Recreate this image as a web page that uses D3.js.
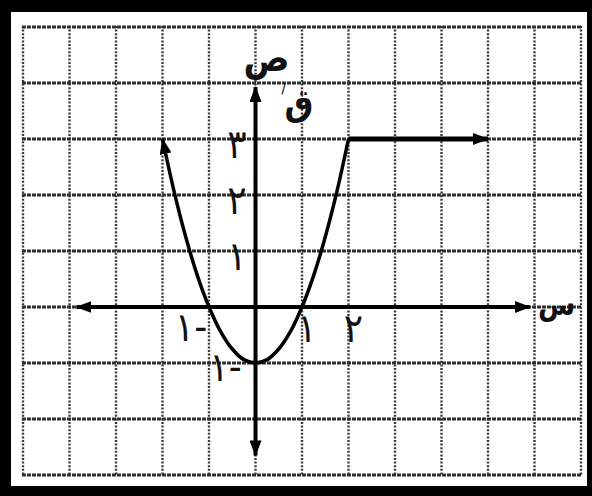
<!DOCTYPE html>
<html>
<head>
<meta charset="utf-8">
<script src="https://cdn.jsdelivr.net/npm/d3@7"></script>
<style>
  body { margin: 0; background: #000; }
  svg { display: block; }
  text { font-family: "DejaVu Sans Condensed", "DejaVu Sans", sans-serif; fill: #111; }
</style>
</head>
<body>
<div id="chart"></div>
<script>
// grid / axis values
var gridX = [-5, -4, -3, -2, -1, 0, 1, 2, 3, 4, 5, 6, 7];
var gridY = [-3, -2, -1, 0, 1, 2, 3, 4, 5];

// the curve
var curveX = [-2, -1.75, -1.5, -1.25, -1, -0.75, -0.5, -0.25, 0, 0.25, 0.5, 0.75, 1, 1.25, 1.5, 1.75, 2];
var curveY = [3, 2.06, 1.25, 0.56, 0, -0.44, -0.75, -0.94, -1, -0.94, -0.75, -0.44, 0, 0.56, 1.25, 2.06, 3];
var flatX = [2, 5];
var flatY = [3, 3];

// axis extents (arrow tips)
var xAxisEnds = [-3.85, 5.9];
var yAxisEnds = [-2.65, 3.93];

// tick labels
var yTickVals = [3, 2, 1];
var yTickText = ["\u0663", "\u0662", "\u0661"];
var xTickVals = [1, 2];
var xTickText = ["\u0661", "\u0662"];
var negText = "\u0661-";

var width = 592, height = 496;

var svg = d3.select("#chart")
  .append("svg")
    .attr("width", width)
    .attr("height", height);

// black frame + paper
svg.append("rect").attr("width", width).attr("height", height).attr("fill", "#000");
svg.append("rect")
  .attr("x", 11).attr("y", 12)
  .attr("width", 576).attr("height", 474)
  .attr("fill", "#fff");

var x = d3.scaleLinear().domain([-5, 7]).range([23, 581]);
var y = d3.scaleLinear().domain([-3, 5]).range([475, 27]);

// arrow heads
var defs = svg.append("defs");
defs.append("marker")
  .attr("id", "arrow")
  .attr("viewBox", "0 0 16 12")
  .attr("refX", 15).attr("refY", 6)
  .attr("markerUnits", "userSpaceOnUse")
  .attr("markerWidth", 16).attr("markerHeight", 12)
  .attr("orient", "auto-start-reverse")
  .append("path")
    .attr("d", "M0,0 L16,6 L0,12 Z")
    .attr("fill", "#000");

// grid lines
svg.append("g")
  .selectAll("line")
  .data(gridX)
  .enter()
  .append("line")
    .attr("x1", function(d) { return x(d); })
    .attr("x2", function(d) { return x(d); })
    .attr("y1", y(5) - 1)
    .attr("y2", y(-3) + 1)
    .attr("stroke", "#3a3a3a")
    .attr("stroke-width", 2.4)
    .attr("stroke-dasharray", "2,1.6");

svg.append("g")
  .selectAll("line")
  .data(gridY)
  .enter()
  .append("line")
    .attr("x1", x(-5) - 1)
    .attr("x2", x(7) + 1)
    .attr("y1", function(d) { return y(d); })
    .attr("y2", function(d) { return y(d); })
    .attr("stroke", "#2e2e2e")
    .attr("stroke-width", 3.2)
    .attr("stroke-dasharray", "4,1");

// axes
svg.append("line")
  .attr("x1", x(xAxisEnds[0])).attr("x2", x(xAxisEnds[1]))
  .attr("y1", y(0)).attr("y2", y(0))
  .attr("stroke", "#000")
  .attr("stroke-width", 4)
  .attr("marker-start", "url(#arrow)")
  .attr("marker-end", "url(#arrow)");

svg.append("line")
  .attr("x1", x(0)).attr("x2", x(0))
  .attr("y1", y(yAxisEnds[0])).attr("y2", y(yAxisEnds[1]))
  .attr("stroke", "#000")
  .attr("stroke-width", 4)
  .attr("marker-start", "url(#arrow)")
  .attr("marker-end", "url(#arrow)");

// the function
var curvePts = curveX.map(function(d, i) { return [d, curveY[i]]; });
var flatPts = flatX.map(function(d, i) { return [d, flatY[i]]; });

var line = d3.line()
  .x(function(d) { return x(d[0]); })
  .y(function(d) { return y(d[1]); })
  .curve(d3.curveCatmullRom);

svg.append("path")
  .datum(curvePts)
  .attr("d", line)
  .attr("fill", "none")
  .attr("stroke", "#000")
  .attr("stroke-width", 3.5)
  .attr("marker-start", "url(#arrow)");

svg.append("path")
  .datum(flatPts)
  .attr("d", d3.line().x(function(d) { return x(d[0]); }).y(function(d) { return y(d[1]); }))
  .attr("fill", "none")
  .attr("stroke", "#000")
  .attr("stroke-width", 5)
  .attr("marker-end", "url(#arrow)");

// tick labels
var tickSize = 40;

svg.append("g")
  .selectAll("text")
  .data(yTickVals)
  .enter()
  .append("text")
    .attr("x", x(0) - 9)
    .attr("y", function(d) { return y(d) + 19; })
    .attr("text-anchor", "end")
    .attr("font-size", tickSize)
    .text(function(d, i) { return yTickText[i]; });

svg.append("g")
  .selectAll("text")
  .data(xTickVals)
  .enter()
  .append("text")
    .attr("x", function(d) { return x(d) + 5; })
    .attr("y", y(0) + 35)
    .attr("text-anchor", "middle")
    .attr("font-size", tickSize)
    .text(function(d, i) { return xTickText[i]; });

// negative labels
svg.append("text")
  .attr("x", x(-1) - 18)
  .attr("y", y(0) + 34)
  .attr("text-anchor", "middle")
  .attr("font-size", tickSize)
  .text(negText);

svg.append("text")
  .attr("x", x(0) - 30)
  .attr("y", y(-1) + 18)
  .attr("text-anchor", "middle")
  .attr("font-size", tickSize)
  .text(negText);

// axis names
svg.append("text")
  .attr("x", x(0) + 11)
  .attr("y", y(4) - 12)
  .attr("text-anchor", "middle")
  .attr("font-size", 38)
  .attr("font-weight", "bold")
  .text("ص");

svg.append("text")
  .attr("x", x(6.5) - 1)
  .attr("y", y(0) + 8)
  .attr("text-anchor", "middle")
  .attr("font-size", 30)
  .attr("font-weight", "bold")
  .text("س");

// function name q'
svg.append("text")
  .attr("x", x(1) - 3)
  .attr("y", y(3) - 24)
  .attr("text-anchor", "middle")
  .attr("font-size", 36)
  .attr("font-weight", "bold")
  .text("ق");

svg.append("text")
  .attr("x", x(0.6))
  .attr("y", y(4) + 10)
  .attr("text-anchor", "middle")
  .attr("font-size", 12)
  .attr("font-weight", "bold")
  .text("/");
</script>
</body>
</html>
